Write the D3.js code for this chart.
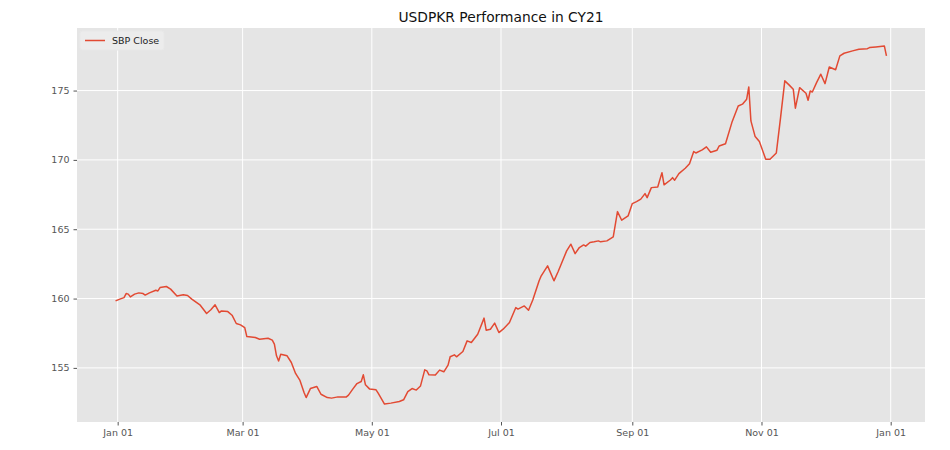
<!DOCTYPE html>
<html>
<head>
<meta charset="utf-8">
<script src="https://cdn.jsdelivr.net/npm/d3@7"></script>
<style>
  body { margin: 0; background: #fff; }
  text { font-family: "DejaVu Sans", sans-serif; }
</style>
</head>
<body>
<div id="chart"></div>
<script>
// SBP close readings
var dates = [
  "2020-12-31","2021-01-02","2021-01-04","2021-01-05","2021-01-06","2021-01-07","2021-01-09","2021-01-11",
  "2021-01-13","2021-01-14","2021-01-16","2021-01-19","2021-01-20","2021-01-21","2021-01-24","2021-01-26",
  "2021-01-29","2021-02-01","2021-02-03","2021-02-05","2021-02-09","2021-02-12","2021-02-14","2021-02-16",
  "2021-02-18","2021-02-19","2021-02-22","2021-02-24","2021-02-26","2021-02-28","2021-03-02","2021-03-03",
  "2021-03-07","2021-03-09","2021-03-13","2021-03-15","2021-03-16","2021-03-17","2021-03-18","2021-03-19",
  "2021-03-22","2021-03-24","2021-03-26","2021-03-28","2021-03-30","2021-03-31","2021-04-02","2021-04-05",
  "2021-04-07","2021-04-10","2021-04-12","2021-04-15","2021-04-19","2021-04-20","2021-04-22","2021-04-24",
  "2021-04-26","2021-04-27","2021-04-28","2021-04-30","2021-05-03","2021-05-04","2021-05-07","2021-05-10",
  "2021-05-14","2021-05-16","2021-05-18","2021-05-20","2021-05-22","2021-05-24","2021-05-26","2021-05-27",
  "2021-05-28","2021-05-31","2021-06-02","2021-06-04","2021-06-06","2021-06-07","2021-06-09","2021-06-10",
  "2021-06-13","2021-06-15","2021-06-17","2021-06-20","2021-06-23","2021-06-24","2021-06-26","2021-06-28",
  "2021-06-30","2021-07-02","2021-07-05","2021-07-08","2021-07-09","2021-07-12","2021-07-14","2021-07-16",
  "2021-07-19","2021-07-20","2021-07-23","2021-07-26","2021-07-28","2021-08-01","2021-08-03","2021-08-05",
  "2021-08-07","2021-08-09","2021-08-10","2021-08-12","2021-08-14","2021-08-16","2021-08-17","2021-08-20",
  "2021-08-23","2021-08-25","2021-08-27","2021-08-30","2021-09-01","2021-09-03","2021-09-05","2021-09-07",
  "2021-09-08","2021-09-10","2021-09-13","2021-09-15","2021-09-16","2021-09-19","2021-09-20","2021-09-21",
  "2021-09-23","2021-09-26","2021-09-28","2021-09-30","2021-10-01","2021-10-04","2021-10-06","2021-10-08",
  "2021-10-11","2021-10-12","2021-10-15","2021-10-18","2021-10-21","2021-10-23","2021-10-25","2021-10-26",
  "2021-10-27","2021-10-29","2021-10-31","2021-11-03","2021-11-05","2021-11-08","2021-11-10","2021-11-12",
  "2021-11-14","2021-11-16","2021-11-17","2021-11-19","2021-11-22","2021-11-23","2021-11-24","2021-11-25",
  "2021-11-27","2021-11-29","2021-12-01","2021-12-03","2021-12-06","2021-12-08","2021-12-10","2021-12-14",
  "2021-12-17","2021-12-21","2021-12-22","2021-12-25","2021-12-29","2021-12-30"
];

var sbpClose = [
  159.83,159.96,160.07,160.36,160.32,160.12,160.32,160.41,
  160.36,160.25,160.41,160.60,160.55,160.79,160.87,160.68,
  160.19,160.27,160.22,159.96,159.52,158.92,159.19,159.55,
  158.99,159.11,159.06,158.80,158.20,158.10,157.90,157.26,
  157.19,157.07,157.14,157.00,156.71,155.87,155.50,155.99,
  155.87,155.39,154.60,154.12,153.22,152.86,153.51,153.66,
  153.10,152.86,152.82,152.91,152.91,153.04,153.47,153.87,
  154.02,154.50,153.78,153.47,153.42,153.18,152.39,152.46,
  152.58,152.70,153.29,153.51,153.40,153.70,154.86,154.79,
  154.50,154.48,154.84,154.72,155.20,155.80,155.94,155.80,
  156.18,156.95,156.83,157.43,158.59,157.72,157.79,158.23,
  157.55,157.79,158.27,159.35,159.24,159.47,159.16,159.90,
  161.28,161.64,162.36,161.28,161.95,163.44,163.92,163.24,
  163.68,163.87,163.78,164.04,164.09,164.16,164.09,164.16,
  164.45,166.27,165.65,165.96,166.85,166.99,167.17,167.57,
  167.28,168.00,168.05,169.08,168.20,168.55,168.72,168.54,
  169.01,169.40,169.73,170.60,170.50,170.72,170.94,170.55,
  170.70,171.00,171.16,172.69,173.89,174.02,174.38,175.26,
  172.81,171.68,171.32,170.05,170.05,170.50,173.05,175.70,
  175.41,175.10,173.73,175.21,174.81,174.30,174.97,174.90,
  175.57,176.18,175.50,176.70,176.50,177.50,177.69,177.86,
  177.98,178.02,178.10,178.15,178.22,177.50
];

var yTicks = [155, 160, 165, 170, 175];
var xTickDates = ["2021-01-01","2021-03-01","2021-05-01","2021-07-01","2021-09-01","2021-11-01","2022-01-01"];

var svgWidth = 950;
var svgHeight = 450;

var margin = {
  top: 28,
  right: 25,
  bottom: 28,
  left: 77
};

var chWidth = svgWidth - margin.left - margin.right;
var chHeight = svgHeight - margin.top - margin.bottom;

var parseDate = d3.timeParse("%Y-%m-%d");

var data = dates.map(function(d, i) {
  return { date: parseDate(d), close: sbpClose[i] };
});

var svg = d3.select("#chart")
  .append("svg")
  .attr("width", svgWidth)
  .attr("height", svgHeight);

var chGroup = svg.append("g")
  .attr("transform", `translate(${margin.left}, ${margin.top})`);

// matplotlib style 5% margins
var xExt = d3.extent(data, d => d.date.getTime());
var xPad = (xExt[1] - xExt[0]) * 0.05;
var yExt = d3.extent(data, d => d.close);
var yPad = (yExt[1] - yExt[0]) * 0.05;

var xScale = d3.scaleTime()
  .domain([new Date(xExt[0] - xPad), new Date(xExt[1] + xPad)])
  .range([0, chWidth]);

var yScale = d3.scaleLinear()
  .domain([yExt[0] - yPad, yExt[1] + yPad])
  .range([chHeight, 0]);

chGroup.append("rect")
  .attr("width", chWidth)
  .attr("height", chHeight)
  .attr("fill", "#e5e5e5");

var xTicks = xTickDates.map(parseDate);

// grid
chGroup.selectAll(".xgrid")
  .data(xTicks)
  .enter()
  .append("line")
  .attr("x1", d => xScale(d))
  .attr("x2", d => xScale(d))
  .attr("y1", 0)
  .attr("y2", chHeight)
  .attr("stroke", "#fff")
  .attr("stroke-width", 1);

chGroup.selectAll(".ygrid")
  .data(yTicks)
  .enter()
  .append("line")
  .attr("x1", 0)
  .attr("x2", chWidth)
  .attr("y1", d => yScale(d))
  .attr("y2", d => yScale(d))
  .attr("stroke", "#fff")
  .attr("stroke-width", 1);

var xAxis = d3.axisBottom(xScale)
  .tickValues(xTicks)
  .tickFormat(d3.timeFormat("%b %d"))
  .tickSizeInner(3.5)
  .tickSizeOuter(0)
  .tickPadding(4);

var yAxis = d3.axisLeft(yScale)
  .tickValues(yTicks)
  .tickSizeInner(3.5)
  .tickSizeOuter(0)
  .tickPadding(4);

var gx = chGroup.append("g")
  .attr("transform", `translate(0, ${chHeight})`)
  .call(xAxis);

var gy = chGroup.append("g")
  .call(yAxis);

[gx, gy].forEach(function(g) {
  g.select(".domain").remove();
  g.selectAll(".tick line").attr("stroke", "#555");
  g.selectAll(".tick text")
    .attr("fill", "#555")
    .style("font-size", "9.5px");
});

// the line
var line = d3.line()
  .x(d => xScale(d.date))
  .y(d => yScale(d.close));

chGroup.append("path")
  .datum(data)
  .attr("d", line)
  .attr("fill", "none")
  .attr("stroke", "#e24a33")
  .attr("stroke-width", 1.5)
  .attr("stroke-linejoin", "round");

// legend
var legend = chGroup.append("g")
  .attr("transform", "translate(3, 3)");

legend.append("rect")
  .attr("width", 84)
  .attr("height", 19)
  .attr("rx", 2)
  .attr("fill", "#ececec")
  .attr("stroke", "#e8e8e8");

legend.append("line")
  .attr("x1", 5)
  .attr("x2", 25)
  .attr("y1", 9.5)
  .attr("y2", 9.5)
  .attr("stroke", "#e24a33")
  .attr("stroke-width", 1.5);

legend.append("text")
  .attr("x", 32)
  .attr("y", 13)
  .style("font-size", "9.5px")
  .attr("fill", "#222")
  .text("SBP Close");

// title
svg.append("text")
  .attr("x", margin.left + chWidth / 2)
  .attr("y", 22)
  .attr("text-anchor", "middle")
  .style("font-size", "13.8px")
  .attr("fill", "#111")
  .text("USDPKR Performance in CY21");
</script>
</body>
</html>
